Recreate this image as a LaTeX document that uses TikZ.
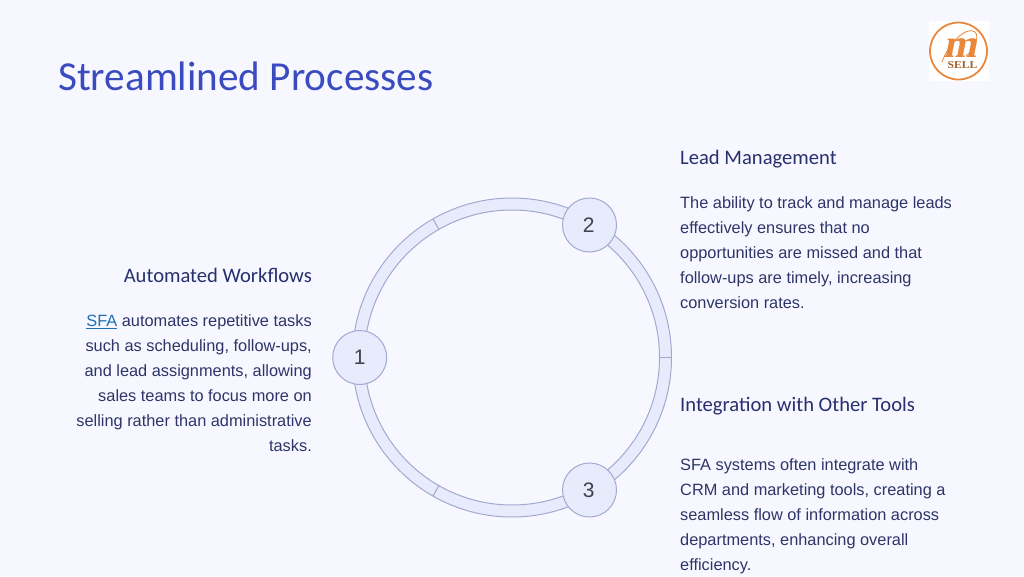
\documentclass[tikz,border=0pt]{standalone}
\usepackage{fontspec}
\setmainfont{Liberation Sans}
\newfontfamily\headfont{Carlito}
\newfontfamily\logofont{Liberation Serif}
\definecolor{pagebg}{HTML}{F7F8FF}
\definecolor{ringfill}{HTML}{E8EBFC}
\definecolor{ringline}{HTML}{A3A9CE}
\definecolor{titleblue}{HTML}{3A4BBF}
\definecolor{headnavy}{HTML}{272F6E}
\definecolor{bodynavy}{HTML}{2E3468}
\definecolor{numgray}{HTML}{3F4150}
\definecolor{linkblue}{HTML}{1F6FB5}
\definecolor{logoorange}{HTML}{E8883C}
\tikzset{
  titletext/.style={anchor=base west,inner sep=0pt,text=titleblue,font=\headfont\fontsize{41.2}{41.2}\selectfont},
  headtext/.style={inner sep=0pt,text=headnavy,font=\headfont\fontsize{20.6}{24}\selectfont},
  bodytext/.style={inner sep=0pt,text=bodynavy,font=\fontsize{16.35}{25}\selectfont},
  numdisc/.style={circle,draw=ringline,fill=ringfill,line width=1pt,minimum size=54pt,inner sep=0pt,text=numgray,font=\fontsize{21}{21}\selectfont},
  ringedge/.style={draw=ringline,line width=1pt},
}
\begin{document}
\begin{tikzpicture}[x=1pt,y=-1pt]
\useasboundingbox (0,0) rectangle (1024,576);
\fill[pagebg] (0,0) rectangle (1024,576);
% ring
\coordinate (ringc) at (512,357.5);
\fill[ringfill,even odd rule] (ringc) circle [radius=159.5pt] (ringc) circle [radius=147.5pt];
\draw[ringedge] (ringc) circle [radius=159.5pt];
\draw[ringedge] (ringc) circle [radius=147.5pt];
\draw[ringedge] (433,219) -- (439.2,230);
\draw[ringedge] (433,496) -- (439.2,485);
\draw[ringedge] (659.5,357.5) -- (671.5,357.5);
% discs
\node[numdisc] (one) at (359.7,357.5) {1};
\node[numdisc] (two) at (589.5,225) {\hspace*{-1.5pt}2};
\node[numdisc] (three) at (589.5,490) {\hspace*{-1.5pt}3};
% title
\node[titletext] (title) at (58,90) {Streamlined Processes};
% left
\node[headtext,anchor=base east] (hauto) at (312,282) {Automated Workflows};
\node[bodytext,anchor=north east,align=right] (bauto) at (312,314.5) {\textcolor{linkblue}{\underline{SFA}} automates repetitive tasks\\such as scheduling, follow-ups,\\and lead assignments, allowing\\sales teams to focus more on\\selling rather than administrative\\tasks.};
% right top
\node[headtext,anchor=base west] (hlead) at (680,164) {Lead Management};
\node[bodytext,anchor=north west,align=left] (blead) at (680,196) {The ability to track and manage leads\\effectively ensures that no\\opportunities are missed and that\\follow-ups are timely, increasing\\conversion rates.};
% right bottom
\node[headtext,anchor=base west] (hint) at (680,411) {Integration with Other Tools};
\node[bodytext,anchor=north west,align=left] (bint) at (680,458.5) {SFA systems often integrate with\\CRM and marketing tools, creating a\\seamless flow of information across\\departments, enhancing overall\\efficiency.};
% logo
\fill[white] (929,21) rectangle (989,81);
\draw[logoorange,line width=1.8pt] (958.5,51) circle [radius=28.5pt];
\draw[logoorange,line width=0.8pt] (942,62) .. controls (950,40) and (968,26) .. (975,32) .. controls (980,37) and (974,50) .. (966,56);
\node[inner sep=0pt,anchor=base,text=logoorange,xslant=0.2,transform shape,font=\logofont\bfseries\fontsize{40}{40}\selectfont] (logom) at (960,57) {m};
\node[inner sep=0pt,anchor=base,text=logoorange!70!black,xscale=1.1,transform shape,font=\logofont\bfseries\fontsize{10.5}{10.5}\selectfont] (logosell) at (962.5,68) {SELL};
\end{tikzpicture}
\end{document}
